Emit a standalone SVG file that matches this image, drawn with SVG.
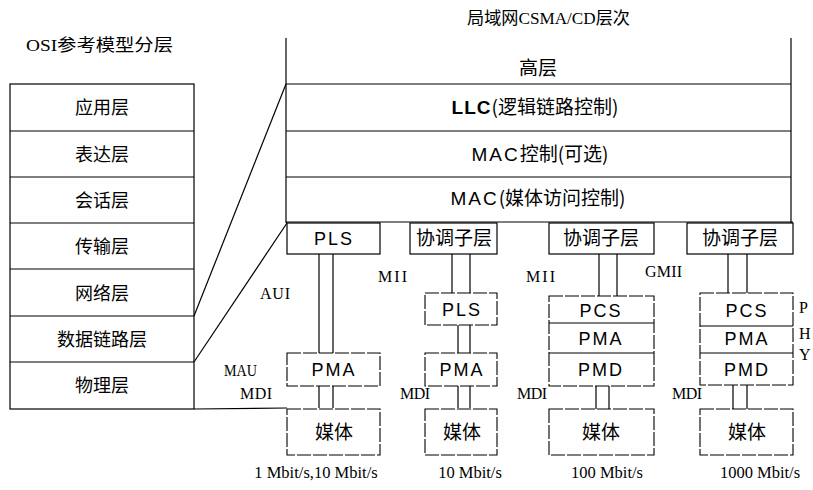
<svg xmlns="http://www.w3.org/2000/svg" width="813" height="490" viewBox="0 0 813 490">
<style>
.ln{stroke:#000;stroke-width:1.2;fill:none}
.bx{stroke:#000;stroke-width:1.2;fill:#fff}
.dbx{stroke:#000;stroke-width:1.1;fill:#fff;stroke-dasharray:14 2}
.cn{font-family:"Noto Sans CJK SC","Noto Sans",sans-serif;font-size:18px;fill:#000;text-anchor:middle}
.cr{font-family:"Noto Sans CJK SC","Noto Sans",sans-serif;font-size:19px;fill:#000;text-anchor:middle}
.en{font-family:"Liberation Sans","Noto Sans CJK SC",sans-serif;font-size:18px;fill:#000;text-anchor:middle;letter-spacing:2px}
.lb{font-family:"Liberation Serif",serif;font-size:16px;fill:#000}
.sp{font-family:"Liberation Serif",serif;font-size:16.5px;fill:#000;text-anchor:middle}
.tt{font-family:"Liberation Serif","Noto Sans CJK SC",serif;font-size:17px;fill:#000}
</style>
<g id="titles">
<text class="tt" x="26" y="51" textLength="147" lengthAdjust="spacingAndGlyphs">OSI参考模型分层</text>
<text class="tt" x="467" y="24" textLength="163" lengthAdjust="spacingAndGlyphs">局域网CSMA/CD层次</text>
</g>
<g id="osi">
<rect class="bx" x="10" y="84" width="184" height="325"/>
<line class="ln" x1="10" y1="131" x2="194" y2="131"/>
<line class="ln" x1="10" y1="177" x2="194" y2="177"/>
<line class="ln" x1="10" y1="223" x2="194" y2="223"/>
<line class="ln" x1="10" y1="269" x2="194" y2="269"/>
<line class="ln" x1="10" y1="316" x2="194" y2="316"/>
<line class="ln" x1="10" y1="362" x2="194" y2="362"/>
<text class="cn" x="102" y="114">应用层</text>
<text class="cn" x="102" y="161">表达层</text>
<text class="cn" x="102" y="207">会话层</text>
<text class="cn" x="102" y="253">传输层</text>
<text class="cn" x="102" y="300">网络层</text>
<text class="cn" x="102" y="346">数据链路层</text>
<text class="cn" x="102" y="392">物理层</text>
</g>
<g id="lan">
<line class="ln" x1="286" y1="38" x2="286" y2="223"/>
<line class="ln" x1="791" y1="38" x2="791" y2="223"/>
<line class="ln" x1="286" y1="84" x2="791" y2="84"/>
<line class="ln" x1="286" y1="131" x2="791" y2="131"/>
<line class="ln" x1="286" y1="177" x2="791" y2="177"/>
<line class="ln" x1="286" y1="222" x2="793" y2="222"/>
<text class="cr" x="538" y="75">高层</text>
<text class="cr" x="535" y="114"><tspan font-family="Liberation Sans" font-weight="bold" letter-spacing="1">LLC</tspan>(逻辑链路控制)</text>
<text class="cr" x="540" y="161"><tspan font-family="Liberation Sans" letter-spacing="2">MAC</tspan>控制(可选)</text>
<text class="cr" x="538" y="205"><tspan font-family="Liberation Sans" letter-spacing="2">MAC</tspan>(媒体访问控制)</text>
</g>
<g id="connectors">
<line class="ln" x1="194" y1="316" x2="286" y2="84"/>
<line class="ln" x1="194" y1="362" x2="287" y2="223"/>
<line class="ln" x1="194" y1="409" x2="287" y2="408"/>
<line class="ln" x1="319" y1="254" x2="319" y2="353"/>
<line class="ln" x1="333" y1="254" x2="333" y2="353"/>
<line class="ln" x1="319" y1="386" x2="319" y2="408"/>
<line class="ln" x1="333" y1="386" x2="333" y2="408"/>
<line class="ln" x1="452" y1="254" x2="452" y2="293"/>
<line class="ln" x1="470" y1="254" x2="470" y2="293"/>
<line class="ln" x1="458" y1="325" x2="458" y2="353"/>
<line class="ln" x1="470" y1="325" x2="470" y2="353"/>
<line class="ln" x1="458" y1="386" x2="458" y2="408"/>
<line class="ln" x1="470" y1="386" x2="470" y2="408"/>
<line class="ln" x1="599" y1="254" x2="599" y2="296"/>
<line class="ln" x1="617" y1="254" x2="617" y2="296"/>
<line class="ln" x1="596" y1="386" x2="596" y2="409"/>
<line class="ln" x1="609" y1="386" x2="609" y2="409"/>
<line class="ln" x1="728" y1="254" x2="728" y2="293"/>
<line class="ln" x1="747" y1="254" x2="747" y2="293"/>
<line class="ln" x1="733" y1="385" x2="733" y2="409"/>
<line class="ln" x1="747" y1="385" x2="747" y2="409"/>
</g>
<g id="col1">
<rect class="bx" x="287" y="223" width="93" height="31"/>
<text class="en" x="334" y="245">PLS</text>
<rect class="dbx" x="287" y="353" width="93" height="33"/>
<text class="en" x="334" y="376">PMA</text>
<rect class="dbx" x="287" y="409" width="93" height="46"/>
<text class="cr" x="334" y="439">媒体</text>
</g>
<g id="col2">
<rect class="bx" x="410" y="223" width="87" height="31"/>
<text class="cr" x="454" y="245">协调子层</text>
<rect class="dbx" x="425" y="293" width="72" height="32"/>
<text class="en" x="462" y="316">PLS</text>
<rect class="dbx" x="425" y="353" width="72" height="33"/>
<text class="en" x="462" y="376">PMA</text>
<rect class="dbx" x="425" y="409" width="72" height="46"/>
<text class="cr" x="462" y="439">媒体</text>
</g>
<g id="col3">
<rect class="bx" x="549" y="223" width="105" height="31"/>
<text class="cr" x="601" y="245">协调子层</text>
<rect class="dbx" x="549" y="296" width="105" height="90"/>
<line class="ln" x1="549" y1="323" x2="654" y2="323"/>
<line class="ln" x1="549" y1="353" x2="654" y2="353"/>
<text class="en" x="601" y="317">PCS</text>
<text class="en" x="601" y="345">PMA</text>
<text class="en" x="601" y="376">PMD</text>
<rect class="dbx" x="549" y="409" width="105" height="46"/>
<text class="cr" x="601" y="439">媒体</text>
</g>
<g id="col4">
<rect class="bx" x="687" y="223" width="106" height="31"/>
<text class="cr" x="740" y="245">协调子层</text>
<rect class="dbx" x="700" y="293" width="93" height="92"/>
<line class="ln" x1="700" y1="326" x2="793" y2="326"/>
<line class="ln" x1="700" y1="353" x2="793" y2="353"/>
<text class="en" x="747" y="317">PCS</text>
<text class="en" x="747" y="345">PMA</text>
<text class="en" x="747" y="376">PMD</text>
<rect class="dbx" x="700" y="409" width="93" height="46"/>
<text class="cr" x="747" y="439">媒体</text>
</g>
<g id="labels">
<text class="lb" x="260" y="299" textLength="30" lengthAdjust="spacing">AUI</text>
<text class="lb" x="224" y="376" textLength="33" lengthAdjust="spacingAndGlyphs">MAU</text>
<text class="lb" x="240" y="399" textLength="32" lengthAdjust="spacing">MDI</text>
<text class="lb" x="378" y="282" textLength="29" lengthAdjust="spacing">MII</text>
<text class="lb" x="400" y="399" textLength="30" lengthAdjust="spacing">MDI</text>
<text class="lb" x="526" y="282" textLength="29" lengthAdjust="spacing">MII</text>
<text class="lb" x="517" y="399" textLength="30" lengthAdjust="spacing">MDI</text>
<text class="lb" x="645" y="277" textLength="37" lengthAdjust="spacing">GMII</text>
<text class="lb" x="672" y="399" textLength="30" lengthAdjust="spacing">MDI</text>
<text class="lb" x="799" y="313">P</text>
<text class="lb" x="799" y="339">H</text>
<text class="lb" x="799" y="360">Y</text>
<text class="sp" x="316" y="478">1 Mbit/s,10 Mbit/s</text>
<text class="sp" x="470" y="478">10 Mbit/s</text>
<text class="sp" x="607" y="478">100 Mbit/s</text>
<text class="sp" x="760" y="478">1000 Mbit/s</text>
</g>
</svg>
